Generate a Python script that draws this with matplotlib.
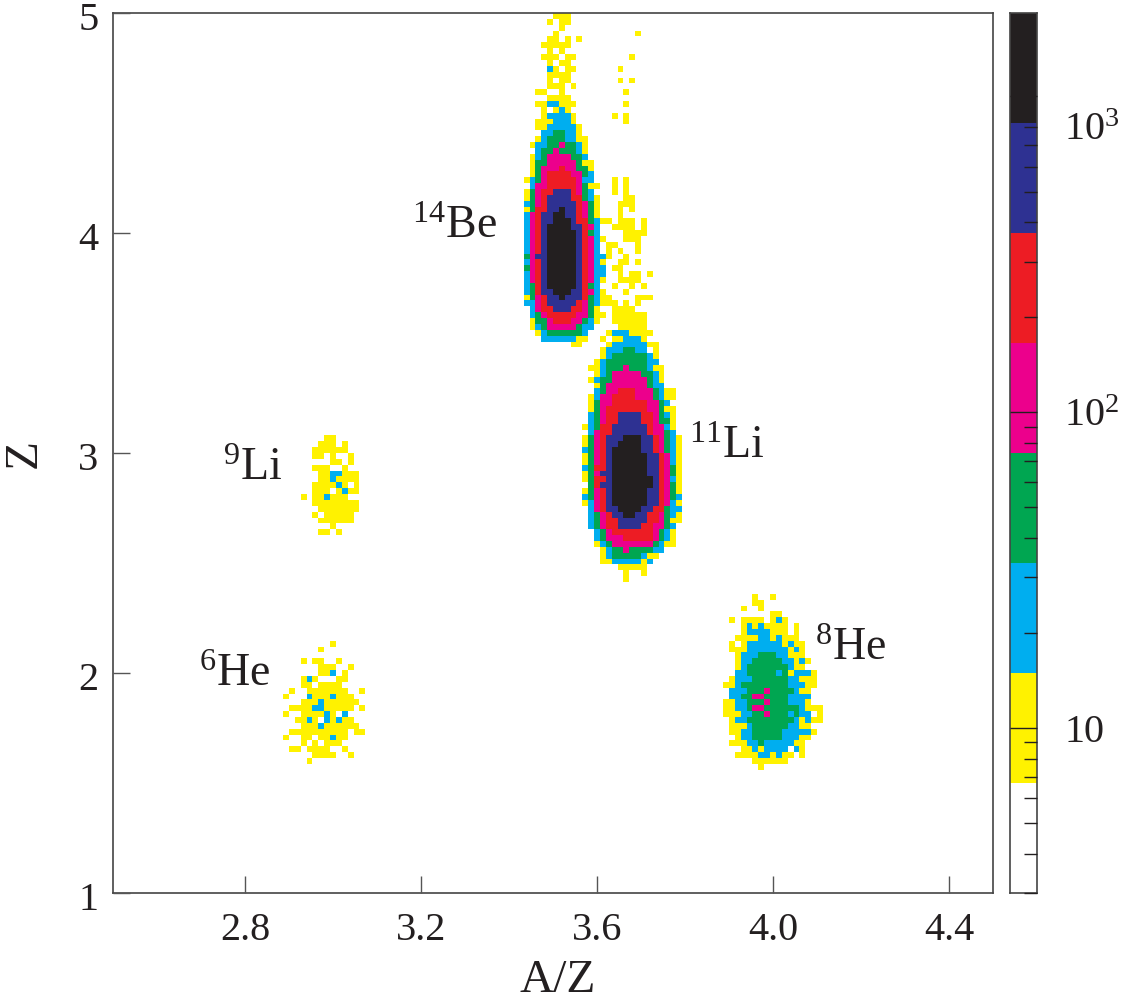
import numpy as np
import matplotlib
matplotlib.use('Agg')
import matplotlib.pyplot as plt
from matplotlib.colors import ListedColormap, BoundaryNorm
from matplotlib.transforms import ScaledTranslation

plt.rcParams['font.family'] = ['Liberation Serif', 'DejaVu Serif']
plt.rcParams['mathtext.fontset'] = 'custom'
plt.rcParams['mathtext.rm'] = 'Liberation Serif'
plt.rcParams['mathtext.default'] = 'rm'

# histogram binning
az_range = [2.5, 4.5]
z_range = [1.0, 5.0]
n_bins = 150

# colour scale
level_edges = [3.0, 6.7, 14.9, 33.3, 74.3, 165.6, 369, 824, 1838]
level_counts = [0, 10, 22, 50, 110, 250, 550, 1200]
level_colors = ['#fff200', '#00aeef', '#00a651', '#ec008c', '#ed1c24', '#2e3192', '#231f20']

# cell levels, '.' is empty, 1-7 are the colour bands
be_li_col = 70
be_li_row = 0
be_li = [
    ".....111.." ".........." ".......",
    "....1.11.." ".........." ".......",
    "......1..." ".........." ".......",
    ".....1...." ".........1" ".......",
    "....11.1.1" ".........." ".......",
    "...11111.." ".........." ".......",
    "....1.1..." ".........." ".......",
    "...111.11." "........1." ".......",
    "....1.11.." ".........." ".......",
    "....21.11." "......1..." ".......",
    "....1111.." ".........." ".......",
    "....1.11.." "......1.1." ".......",
    "....111.1." ".........." ".......",
    "..11..1..." ".......1.." ".......",
    "....1111.." ".........." ".......",
    "..1122111." ".......1.." ".......",
    "...1.121.." ".........." ".......",
    "...122221." ".....1.1.." ".......",
    "..1112221." ".......1.." ".......",
    "..11222221" ".........." ".......",
    "...2233221" ".........." ".......",
    "..12333221" "1........." ".......",
    ".122334332" "1........." ".......",
    "..23343332" "1........." ".......",
    ".123444433" "2........." ".......",
    ".133444443" "11........" ".......",
    ".134445443" "31........" ".......",
    ".134555544" "32........" ".......",
    "1234555554" "22...1.1.." ".......",
    ".244555554" "311..1.1.." ".......",
    "1345566654" "32...1.1.." ".......",
    "1345666655" "321....11." ".......",
    "2345666665" "431...111." ".......",
    "1355667665" "431...1.1." ".......",
    "2456677665" "431...1..." ".......",
    "2456677765" "53211.111." "1......",
    "2456777766" "542..1111." "1......",
    "2456777776" "532....111" "1......",
    "2456777776" "5421...111" ".......",
    "2456777776" "542.11...1" ".......",
    "2456777776" "542.1.1..1" ".......",
    "3466777776" "54221..1.." ".......",
    "2456777776" "5421..11.1" ".......",
    "3456777776" "5422.11..." ".......",
    "2456777776" "5422..1.11" ".1.....",
    "2456777776" "5421..1111" ".......",
    "2356777776" "532..1..1." "1......",
    "2356677766" "5421...1.." ".......",
    "1345667666" "53211....1" "11.....",
    "2245666665" "432111.1.1" ".......",
    ".245566655" "431..1111." ".......",
    ".234555554" "4311.11111" "1......",
    ".133455544" "321..11111" "1......",
    ".123444443" "22....1111" "1......",
    "..12333333" "2...122211" "11.....",
    "...2222221" "1..1.11222" "1......",
    "........11" "....122222" "211....",
    ".........." "...1222332" "2.1....",
    ".........." "...1233333" "321....",
    ".........." "..12333333" "322....",
    ".........." ".112333433" "3211...",
    ".........." "..12344444" "3321...",
    ".........." ".123344444" "4321...",
    ".........." "..13444444" "4322...",
    ".........." "..23445554" "443211.",
    ".........." ".124455554" "443211.",
    ".........." ".134455555" "54432..",
    ".........." ".134555555" "544311.",
    ".........." ".234556666" "554321.",
    ".........." ".234556666" "554331.",
    ".........." "1235566666" "654421.",
    ".........." ".245566666" "654432.",
    ".........." "1345666777" "6654321",
    ".........." "1345667777" "6654321",
    ".........." "2345677777" "6654321",
    ".........." "1345677777" "7665421",
    ".........." "1345677777" "7665421",
    ".........." "2355677777" "7665431",
    ".........." "1346677777" "7665431",
    ".........." "1355677777" "7765421",
    ".........." ".356677777" "7765431",
    ".........." "1345677777" "7665431",
    ".........." "2345677777" "7665432",
    ".........." "1245677777" "7665421",
    ".........." ".245667777" "6655322",
    ".........." ".234566776" "6554321",
    ".........." ".234556666" "6554311",
    ".........." ".234556666" "554432.",
    ".........." "..23455555" "554321.",
    ".........." "..23444555" "554321.",
    ".........." "..12344444" "443211.",
    ".........." "...1233433" "3322...",
    ".........." "...1233333" "211....",
    ".........." "...1122222" "12.....",
    ".........." "......1111" "1......",
    ".........." ".......1.." "1......",
    ".........." ".......1.." ".......",
]

he8_col = 104
he8_row = 99
he8 = [
    ".....1..1." "........",
    ".....11..." "........",
    "...1..1..." "........",
    "........11" "........",
    ".1.1111.12" "1.......",
    "...1212111" "1.1.....",
    "...1222211" "1.1.....",
    "..11112212" "111.....",
    ".1.1222222" "1211....",
    ".111222222" "2121....",
    "..12223332" "2111....",
    "..12233333" "22121...",
    "..12333333" "3211....",
    "..22333332" "312221..",
    ".122233333" "322111..",
    "1123333333" "322211..",
    ".222333433" "33211...",
    ".223344333" "32222...",
    "1122333433" "32221...",
    "1122344333" "3332111.",
    "1112233433" "32322.1.",
    ".122333333" "3321211.",
    ".111233333" "32211...",
    ".112233333" "222221..",
    "..12233333" "22211...",
    ".111223222" "2211....",
    "...1121222" "2.21....",
    "..11112212" "11.1....",
    ".....11111" "1.......",
    "......1..." "........",
]

li9_col = 32
li9_row = 72
li9 = [
    "....11....",
    "...111.1..",
    "..111111..",
    "..11.1..1.",
    ".....11.1.",
    "..111..1..",
    "...1122111",
    "...1121111",
    "..111121.1",
    "..111.1211",
    "1.112111..",
    "..11111111",
    "...1111111",
    "..1.11111.",
    "...111111.",
    ".....1....",
    "...11.1...",
]

he6_col = 29
he6_row = 107
he6 = [
    "........1.....",
    "......1.......",
    "..............",
    "...1.11..1....",
    "......111..1..",
    "......112.1...",
    "...121...11...",
    "...11.1111....",
    ".1..1111111..1",
    "1...21112111..",
    "...1112111111.",
    ".11112211111.1",
    "1..111121.2...",
    "..1121.21211..",
    "...1112111111.",
    ".1111111111.11",
    "1..11.11211...",
    "...1.1.111....",
    ".11.1111..1...",
    ".....1111..1..",
    "....1.........",
]

labels = ['$^{14}$Be', '$^{11}$Li', '$^{9}$Li', '$^{6}$He', '$^{8}$He']
label_az = [3.18, 3.81, 2.75, 2.696, 4.095]
label_z = [4.03, 3.03, 2.93, 1.99, 2.11]

grid = np.zeros((n_bins, n_bins))
for rows, c0, r0 in [(be_li, be_li_col, be_li_row), (he8, he8_col, he8_row),
                     (li9, li9_col, li9_row), (he6, he6_col, he6_row)]:
    for i, row in enumerate(rows):
        for j, ch in enumerate(row):
            if ch != '.':
                grid[n_bins - 1 - (r0 + i), c0 + j] = level_counts[int(ch)]

az_edges = np.linspace(az_range[0], az_range[1], n_bins + 1)
z_edges = np.linspace(z_range[0], z_range[1], n_bins + 1)

W, H = 1126.0, 1000.0
fig = plt.figure(figsize=(W / 100, H / 100), dpi=100)
ax = fig.add_axes([113 / W, 1 - 893 / H, 880 / W, 880 / H])
cax = fig.add_axes([1010 / W, 1 - 893 / H, 27 / W, 880 / H])

cmap = ListedColormap(['#ffffff'] + level_colors)
norm = BoundaryNorm(level_edges, cmap.N)
ax.pcolormesh(az_edges, z_edges, np.ma.masked_equal(grid, 0), cmap=cmap, norm=norm)

ax.set_xlim(az_range)
ax.set_ylim(z_range)
ax.set_xticks([2.8, 3.2, 3.6, 4.0, 4.4])
ax.set_xticklabels(['2.8', '3.2', '3.6', '4.0', '4.4'])
ax.set_yticks([1, 2, 3, 4, 5])
ax.tick_params(direction='in', length=12, width=1.0, color='#555555',
               labelsize=29, labelcolor='#231f20')
ax.tick_params(axis='x', pad=14)
ax.tick_params(axis='y', pad=10.5)
ax.set_axisbelow(False)
# the number labels on the y axis sit a little below their ticks
shift = ScaledTranslation(0, -3 / 100, fig.dpi_scale_trans)
for tl in ax.get_yticklabels():
    tl.set_transform(tl.get_transform() + shift)
ax.set_xlabel('A/Z', fontsize=34, color='#231f20')
ax.xaxis.set_label_coords(0.505, -0.075)
ax.set_ylabel('Z', fontsize=34, color='#231f20')
ax.yaxis.set_label_coords(-0.077, 0.5)
for s in ax.spines.values():
    s.set_linewidth(1.2)
    s.set_color('#444444')

for t, x, y in zip(labels, label_az, label_z):
    ax.text(x, y, t, fontsize=33, color='#231f20', va='center', ha='left')

# colour bar on a log axis
cax.set_yscale('log')
cax.set_ylim(level_edges[0], level_edges[-1])
cax.set_xlim(0, 1)
for lo, hi, c in zip(level_edges[:-1], level_edges[1:], cmap.colors):
    cax.axhspan(lo, hi, color=c, lw=0)
cax.set_xticks([])
cax.yaxis.tick_right()
cax.set_yticks([10, 100, 1000])
cax.set_yticklabels(['10', '$10^{2}$', ''])
cax.set_yticks([3, 4, 5, 6, 7, 8, 9, 20, 30, 40, 50, 60, 70, 80, 90,
                200, 300, 400, 500, 600, 700, 800], minor=True)
cax.tick_params(axis='y', which='major', direction='in', length=19.5, width=1.0,
                labelsize=29, colors='#231f20', pad=19.5)
cax.tick_params(axis='y', which='minor', direction='in', length=9.7, width=1.0,
                color='#231f20', labelright=False)
cax.set_axisbelow(False)
cax.text(2.0, 782, '$10^{3}$', fontsize=29, color='#231f20', va='center', ha='left',
         transform=cax.get_yaxis_transform(), clip_on=False)
for s in cax.spines.values():
    s.set_linewidth(1.2)
    s.set_color('#444444')

fig.savefig('out.png', dpi=100)
